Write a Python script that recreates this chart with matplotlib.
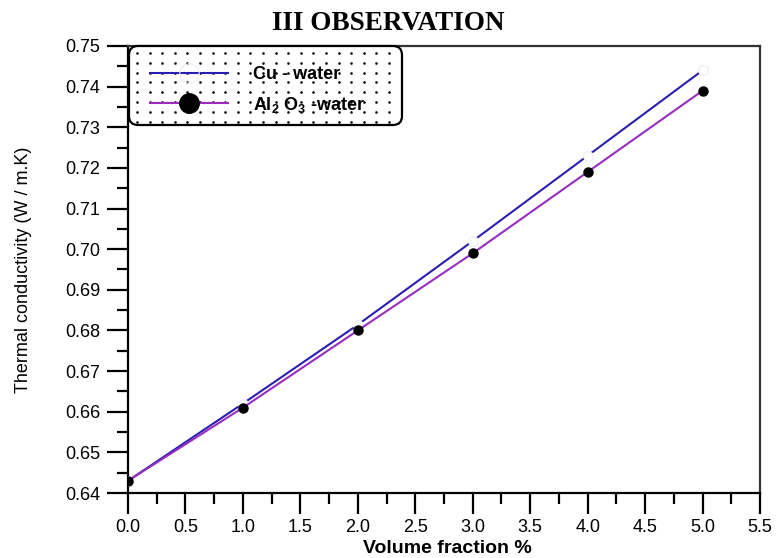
import matplotlib
matplotlib.use("Agg")
import numpy as np
import matplotlib.pyplot as plt
from matplotlib.patches import FancyBboxPatch
from matplotlib.ticker import MultipleLocator, FormatStrFormatter

plt.rcParams['font.family'] = ['Liberation Sans', 'DejaVu Sans']
plt.rcParams['mathtext.default'] = 'regular'

volume_fraction = [0, 1, 2, 3, 4, 5]
cu_water = [0.643, 0.662, 0.6814, 0.702, 0.723, 0.744]
al2o3_water = [0.643, 0.661, 0.680, 0.699, 0.719, 0.739]
series_labels = ['Cu - water', r'Al$_2$ O$_3$ -water']
title_text = 'III OBSERVATION'
xlabel_text = 'Volume fraction %'
ylabel_text = 'Thermal conductivity (W / m.K)'

W, H = 776, 558
fig = plt.figure(figsize=(W / 100, H / 100), dpi=100)
ax_l, ax_r, ax_t, ax_b = 128, 760, 46, 493
ax = fig.add_axes([ax_l / W, 1 - ax_b / H, (ax_r - ax_l) / W, (ax_b - ax_t) / H])
aw, ah = ax_r - ax_l, ax_b - ax_t

ax.plot(volume_fraction, cu_water, color='#2a1fb0', lw=1.5, marker='o',
        markersize=7, markerfacecolor='white', markeredgecolor='#ececf4',
        markeredgewidth=0.8, label=series_labels[0], zorder=3)
ax.plot(volume_fraction, al2o3_water, color='#9a2cc0', lw=1.5, marker='o',
        markersize=6.5, markerfacecolor='black', markeredgecolor='black',
        label=series_labels[1], zorder=4)

ax.set_xlim(0, 5.5)
ax.set_ylim(0.64, 0.75)
ax.xaxis.set_major_locator(MultipleLocator(0.5))
ax.xaxis.set_minor_locator(MultipleLocator(0.25))
ax.yaxis.set_major_locator(MultipleLocator(0.01))
ax.yaxis.set_minor_locator(MultipleLocator(0.005))
ax.xaxis.set_major_formatter(FormatStrFormatter('%.1f'))
ax.yaxis.set_major_formatter(FormatStrFormatter('%.2f'))

ax.tick_params(axis='both', which='major', direction='out', length=15,
               width=1.6, labelsize=13, color='black', pad=5)
ax.tick_params(axis='both', which='minor', direction='out', length=8,
               width=1.6, color='black')
ax.tick_params(axis='x', which='major', pad=4)
for s in ['left', 'bottom']:
    ax.spines[s].set_linewidth(1.6)
for s in ['top', 'right']:
    ax.spines[s].set_linewidth(1.6)
    ax.spines[s].set_color('#333333')

ax.set_xlabel(xlabel_text, fontsize=14, fontweight='bold')
ax.xaxis.set_label_coords(0.505, (ax_b - 540) / ah)
ax.xaxis.label.set_va('top')
ax.set_ylabel(ylabel_text, fontsize=13)
ax.yaxis.set_label_coords((32 - ax_l) / aw, 0.5)

fig.text(0.5, 1 - 23 / H, title_text, ha='center', va='center',
         fontsize=19.5, fontweight='bold', family='Liberation Serif')

# legend box with dotted fill
bx0, bx1, by0, by1 = 129, 402, 46, 125
box = FancyBboxPatch(((bx0 - ax_l) / aw, (ax_b - by1) / ah),
                     (bx1 - bx0) / aw, (by1 - by0) / ah,
                     boxstyle='round,pad=0,rounding_size=%f' % (9 / aw),
                     mutation_aspect=aw / ah, transform=ax.transAxes,
                     facecolor='white', edgecolor='black', lw=1.6,
                     clip_on=False, zorder=5)
ax.add_patch(box)
dx = np.arange(bx0 + 8, bx1 - 3, 12.6)
dy = np.arange(by0 + 7, by1 - 2, 9.8)
gx, gy = np.meshgrid((dx - ax_l) / aw, (ax_b - dy) / ah)
ax.scatter(gx.ravel(), gy.ravel(), s=3.5, color='black', marker='o',
           linewidths=0, transform=ax.transAxes, clip_on=False, zorder=6)

fs = 13
fpx = fs * 100 / 72
leg = ax.legend(loc='upper left',
                bbox_to_anchor=((150 - ax_l) / aw, (ax_b - 66) / ah),
                borderaxespad=0, borderpad=0, frameon=False,
                prop={'size': fs, 'weight': 'bold'},
                handlelength=78 / fpx, handletextpad=25 / fpx,
                labelspacing=0.65)
leg.set_zorder(8)
handles = leg.legend_handles
handles[0].set_markersize(14)
handles[0].set_markerfacecolor('none')
handles[1].set_markersize(14)

fig.savefig('out.png', dpi=100)
